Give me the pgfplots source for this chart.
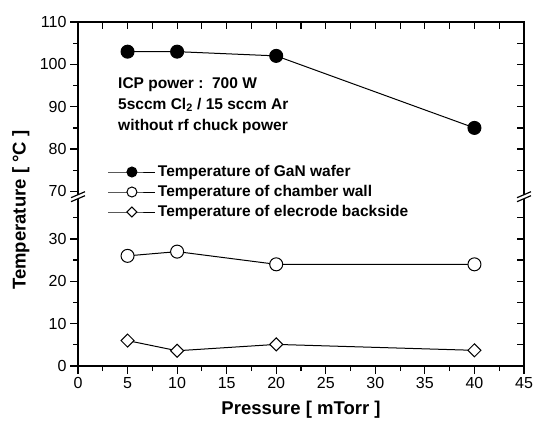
\documentclass[border=0pt]{standalone}
\usepackage{fontspec}
\setmainfont{Liberation Sans}
\usepackage{pgfplots}
\pgfplotsset{compat=1.18}

% upper part of the broken y axis (70..110) is moved down by 28.8
\pgfplotsset{
  common/.style={
    scale only axis, width=446pt, height=344pt,
    xmin=0, xmax=45, ymin=0, ymax=81.2,
    axis line style={line width=1.6pt},
    every tick/.style={black, line width=1.2pt},
  },
}

\begin{document}
\begin{tikzpicture}
\begin{axis}[
  common,
  y filter/.expression={y>50 ? y-28.8 : y},
  xtick={0,5,...,45}, minor xtick={2.5,7.5,...,42.5},
  ytick={0,10,20,30,41.2,51.2,61.2,71.2,81.2},
  yticklabels={0,10,20,30,70,80,90,100,110},
  minor ytick={5,15,25,35,46.2,56.2,66.2,76.2},
  xtick pos=left, ytick pos=left, tick align=outside,
  major tick length=8pt, minor tick length=5pt,
  tick label style={font=\fontsize{16}{16}\selectfont},
  /pgf/number format/assume math mode=true,
  xlabel={Pressure [ mTorr ]},
  ylabel={Temperature [ °C ]},
  label style={font=\bfseries\fontsize{18.5}{18.5}\selectfont},
  xlabel style={at={(axis description cs:0.5,-0.128)}, anchor=center},
  ylabel style={at={(axis description cs:-0.128,0.453)}, anchor=center},
  legend image code/.code={\draw[mark repeat=2,mark phase=2,#1]
    plot coordinates {(0pt,0pt) (23.5pt,0pt) (47pt,0pt)};},
  legend image post style={/tikz/every mark/.append style={scale=0.77}},
  legend cell align=left,
  legend style={draw=none, fill=none, inner sep=0pt, row sep=0pt,
    at={(axis cs:3.0,48.2)}, anchor=north west,
    font=\bfseries\fontsize{15.5}{15.5}\selectfont,
    nodes={text height=12pt, text depth=4pt, inner sep=2pt}},
]
\addplot[black, line width=1pt, mark=*, mark size=6.5pt, mark options={fill=black}]
  coordinates {(5,103) (10,103) (20,102) (40,85)};
\addlegendentry{Temperature of GaN wafer}
\addplot[black, line width=1pt, mark=*, mark size=6.5pt, mark options={fill=white}]
  coordinates {(5,26) (10,27) (20,24) (40,24)};
\addlegendentry{Temperature of chamber wall}
\addplot[black, line width=1pt, mark=square*, mark size=4.6pt, mark options={fill=white, rotate=45}]
  coordinates {(5,6) (10,3.6) (20,5.1) (40,3.7)};
\addlegendentry{Temperature of elecrode backside}

\node[anchor=north west, align=left, inner sep=0pt,
  font=\bfseries\fontsize{15.5}{21}\selectfont] at (axis cs:4.04,68.2)
  {ICP power :\ \ 700 W\\5sccm Cl\textsubscript{2} / 15 sccm Ar\\without rf chuck power};

\coordinate (bl) at (axis cs:0,40.2);
\coordinate (br) at (axis cs:45,40.2);
\end{axis}

% top and right ticks point inwards
\begin{axis}[
  common,
  xtick={2.5,5,...,42.5}, xticklabels={},
  ytick={5,10,...,35,46.2,51.2,...,76.2}, yticklabels={},
  xtick pos=right, ytick pos=right, tick align=inside,
  major tick length=7pt,
]
\end{axis}

% axis break marks
\foreach \p in {bl,br} {
  \fill[white] ([shift={(-7pt,-6pt)}]\p) -- ([shift={(7pt,0pt)}]\p)
    -- ([shift={(7pt,4pt)}]\p) -- ([shift={(-7pt,-2pt)}]\p) -- cycle;
  \draw[line width=1.2pt] ([shift={(-7pt,-6pt)}]\p) -- ([shift={(7pt,0pt)}]\p);
  \draw[line width=1.2pt] ([shift={(-7pt,-2pt)}]\p) -- ([shift={(7pt,4pt)}]\p);
}

\pgfresetboundingbox
\path[use as bounding box] (-78pt,-63pt) rectangle (456pt,366pt);
\end{tikzpicture}
\end{document}
